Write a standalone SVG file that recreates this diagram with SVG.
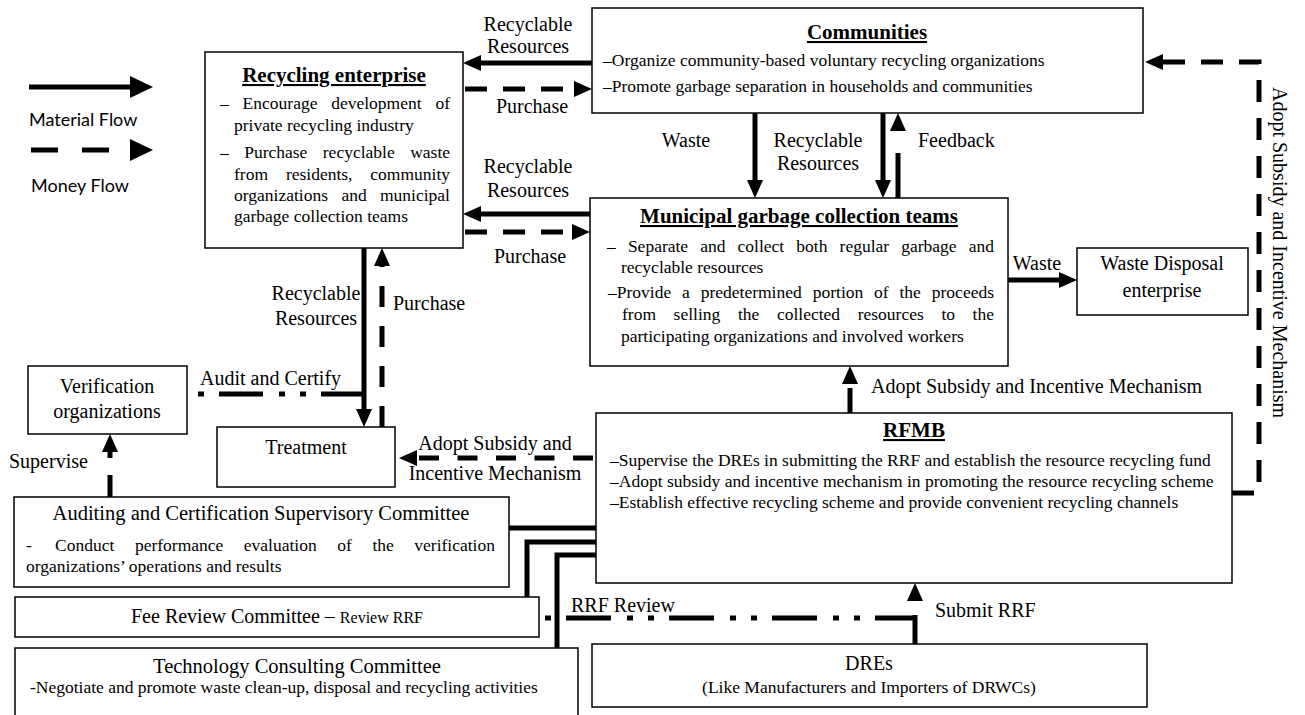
<svg xmlns="http://www.w3.org/2000/svg" width="1305" height="715" viewBox="0 0 1305 715">
<defs>
<style>
.box{fill:#fff;stroke:#000;stroke-width:1.5}
.t{font-family:"Liberation Serif","Times New Roman",serif;fill:#000}
.title{font-size:21px;font-weight:bold;text-decoration:underline}
.body{font-size:17.5px}
.lbl{font-size:20px}
.head{font-size:20.5px}
.leg{font-family:Lato,"Liberation Sans",sans-serif;font-size:18px;fill:#000}
.flow{fill:none;stroke:#000;stroke-width:5}
.money{stroke-dasharray:22 16}
.dd{stroke-dasharray:45 16 6 15 6 15}
.mid{text-anchor:middle}
</style>
<marker id="ah" markerUnits="userSpaceOnUse" markerWidth="20" markerHeight="20" viewBox="0 -10 20 20" refX="0" refY="0" orient="auto" overflow="visible"><path d="M0,-8 L18,0 L0,8 z" fill="#000"/></marker>
<marker id="ahL" markerUnits="userSpaceOnUse" markerWidth="26" markerHeight="26" viewBox="0 -13 26 26" refX="0" refY="0" orient="auto" overflow="visible"><path d="M0,-11 L23,0 L0,11 z" fill="#000"/></marker>
</defs>
<rect width="1305" height="715" fill="#fff"/>

<g id="legend">
<path class="flow" d="M29,87 H130" stroke-width="6" marker-end="url(#ahL)"/>
<text class="leg" x="29" y="126">Material Flow</text>
<path class="flow" d="M31,150 H130" stroke-width="6" stroke-dasharray="27 24" marker-end="url(#ahL)"/>
<text class="leg" x="31" y="192">Money Flow</text>
</g>

<g id="connectors">
<path class="flow" d="M592,63 H481" marker-end="url(#ah)"/>
<path class="flow money" d="M465,89 H574" marker-end="url(#ah)"/>
<path class="flow" d="M590,214 H481" marker-end="url(#ah)"/>
<path class="flow money" d="M465,232 H572" marker-end="url(#ah)"/>
<path class="flow" d="M755,113 V180" marker-end="url(#ah)"/>
<path class="flow" d="M883,113 V180" marker-end="url(#ah)"/>
<path class="flow" d="M898,198 V131" stroke-dasharray="45 30" marker-end="url(#ah)"/>
<path class="flow" d="M1008,280 H1059" marker-end="url(#ah)"/>
<path class="flow" d="M850,413 V384" stroke-dasharray="25 10" marker-end="url(#ah)"/>
<path class="flow money" d="M1232,493 H1259 V62 H1163" marker-end="url(#ah)"/>
<path class="flow" d="M593,458 H417" stroke-dasharray="20 18.5" marker-end="url(#ah)"/>
<path class="flow" d="M364,248 V409" marker-end="url(#ah)"/>
<path class="flow" d="M382,427 V266" stroke-dasharray="21 19" marker-end="url(#ah)"/>
<path class="flow" d="M198,394 H365" stroke-dasharray="44 16 6 15 6 15" stroke-dashoffset="81"/>
<path class="flow dd" d="M545,618 H916" stroke-dashoffset="82"/>
<path class="flow" d="M915,644 V601" stroke-dasharray="29 14" marker-end="url(#ah)"/>
<path class="flow" d="M110,497 V452" stroke-dasharray="22 17" marker-end="url(#ah)"/>
<path class="flow" d="M509,528 H597"/>
<path class="flow" d="M597,542 H527 V597"/>
<path class="flow" d="M597,555 H557 V648"/>
</g>

<g id="connector-labels" class="t lbl">
<text class="mid" x="528" y="31">Recyclable</text>
<text class="mid" x="528" y="53">Resources</text>
<text class="mid" x="532" y="113">Purchase</text>
<text class="mid" x="528" y="173">Recyclable</text>
<text class="mid" x="528" y="197">Resources</text>
<text class="mid" x="530" y="263">Purchase</text>
<text class="mid" x="686" y="147">Waste</text>
<text class="mid" x="818" y="147">Recyclable</text>
<text class="mid" x="818" y="170">Resources</text>
<text x="918" y="147">Feedback</text>
<text class="mid" x="1037" y="270">Waste</text>
<text x="871" y="393">Adopt Subsidy and Incentive Mechanism</text>
<text class="mid" x="316" y="300">Recyclable</text>
<text class="mid" x="316" y="325">Resources</text>
<text x="393" y="310">Purchase</text>
<text x="200" y="385">Audit and Certify</text>
<text x="9" y="468">Supervise</text>
<text class="mid" x="495" y="450">Adopt Subsidy and</text>
<text class="mid" x="495" y="480">Incentive Mechanism</text>
<text x="571" y="612">RRF Review</text>
<text x="935" y="617">Submit RRF</text>
<text transform="translate(1273,87) rotate(90)">Adopt Subsidy and Incentive Mechanism</text>
</g>

<g id="recycling-enterprise">
<rect class="box" x="205" y="52" width="258" height="196"/>
<text class="t title mid" x="334" y="82">Recycling enterprise</text>
<text class="t body" y="109"><tspan x="220">–</tspan><tspan x="242.6">Encourage</tspan><tspan x="331.2">development</tspan><tspan x="435.4">of</tspan></text>
<text class="t body" x="234" y="131">private recycling industry</text>
<text class="t body" y="158"><tspan x="220">–</tspan><tspan x="244.2">Purchase</tspan><tspan x="322.8">recyclable</tspan><tspan x="410.2">waste</tspan></text>
<text class="t body" y="180"><tspan x="234">from</tspan><tspan x="285.9">residents,</tspan><tspan x="370.3">community</tspan></text>
<text class="t body" y="201"><tspan x="234">organizations</tspan><tspan x="341.5">and</tspan><tspan x="380">municipal</tspan></text>
<text class="t body" x="234" y="222">garbage collection teams</text>
</g>

<g id="communities">
<rect class="box" x="592" y="8" width="551" height="105"/>
<text class="t title mid" x="867" y="39">Communities</text>
<text class="t body" x="603" y="66">–Organize community-based voluntary recycling organizations</text>
<text class="t body" x="603" y="92">–Promote garbage separation in households and communities</text>
</g>

<g id="municipal-garbage-collection-teams">
<rect class="box" x="590" y="198" width="418" height="168"/>
<text class="t title mid" x="799" y="223">Municipal garbage collection teams</text>
<text class="t body" y="252"><tspan x="607">–</tspan><tspan x="627.9">Separate</tspan><tspan x="700.2">and</tspan><tspan x="737.6">collect</tspan><tspan x="796.3">both</tspan><tspan x="839.6">regular</tspan><tspan x="901.2">garbage</tspan><tspan x="968.7">and</tspan></text>
<text class="t body" x="621" y="273">recyclable resources</text>
<text class="t body" y="298"><tspan x="608">–Provide</tspan><tspan x="682.1">a</tspan><tspan x="700.7">predetermined</tspan><tspan x="812.7">portion</tspan><tspan x="874.1">of</tspan><tspan x="899.5">the</tspan><tspan x="931.8">proceeds</tspan></text>
<text class="t body" y="320"><tspan x="622">from</tspan><tspan x="673.6">selling</tspan><tspan x="737.9">the</tspan><tspan x="776.9">collected</tspan><tspan x="857.7">resources</tspan><tspan x="941.4">to</tspan><tspan x="972.6">the</tspan></text>
<text class="t body" x="621" y="342">participating organizations and involved workers</text>
</g>

<g id="waste-disposal-enterprise">
<rect class="box" x="1077" y="248" width="171" height="67"/>
<text class="t lbl mid" x="1162" y="270">Waste Disposal</text>
<text class="t lbl mid" x="1162" y="297">enterprise</text>
</g>

<g id="verification-organizations">
<rect class="box" x="28" y="366" width="159" height="68"/>
<text class="t lbl mid" x="107" y="393">Verification</text>
<text class="t lbl mid" x="107" y="418">organizations</text>
</g>

<g id="treatment">
<rect class="box" x="217" y="427" width="178" height="60"/>
<text class="t lbl mid" x="306" y="454">Treatment</text>
</g>

<g id="rfmb">
<rect class="box" x="596" y="413" width="636" height="170"/>
<text class="t title mid" x="914" y="437">RFMB</text>
<text class="t body" x="610" y="466">–Supervise the DREs in submitting the RRF and establish the resource recycling fund</text>
<text class="t body" x="610" y="487">–Adopt subsidy and incentive mechanism in promoting the resource recycling scheme</text>
<text class="t body" x="610" y="508">–Establish effective recycling scheme and provide convenient recycling channels</text>
</g>

<g id="auditing-committee">
<rect class="box" x="14" y="497" width="495" height="90"/>
<text class="t head mid" x="261" y="520">Auditing and Certification Supervisory Committee</text>
<text class="t body" y="551"><tspan x="26">-</tspan><tspan x="55">Conduct</tspan><tspan x="134.9">performance</tspan><tspan x="243.8">evaluation</tspan><tspan x="337.3">of</tspan><tspan x="372.4">the</tspan><tspan x="414.3">verification</tspan></text>
<text class="t body" x="26" y="572">organizations’ operations and results</text>
</g>

<g id="fee-review-committee">
<rect class="box" x="15" y="597" width="524" height="40"/>
<text class="t mid" x="277" y="623"><tspan font-size="20px">Fee Review Committee – </tspan><tspan font-size="16px">Review RRF</tspan></text>
</g>

<g id="technology-consulting-committee">
<rect class="box" x="15" y="648" width="563" height="75"/>
<text class="t head mid" x="297" y="673">Technology Consulting Committee</text>
<text class="t body" x="30" y="693">-Negotiate and promote waste clean-up, disposal and recycling activities</text>
</g>

<g id="dres">
<rect class="box" x="592" y="644" width="555" height="63"/>
<text class="t lbl mid" x="869" y="670">DREs</text>
<text class="t body mid" x="869" y="693">(Like Manufacturers and Importers of DRWCs)</text>
</g>
</svg>
